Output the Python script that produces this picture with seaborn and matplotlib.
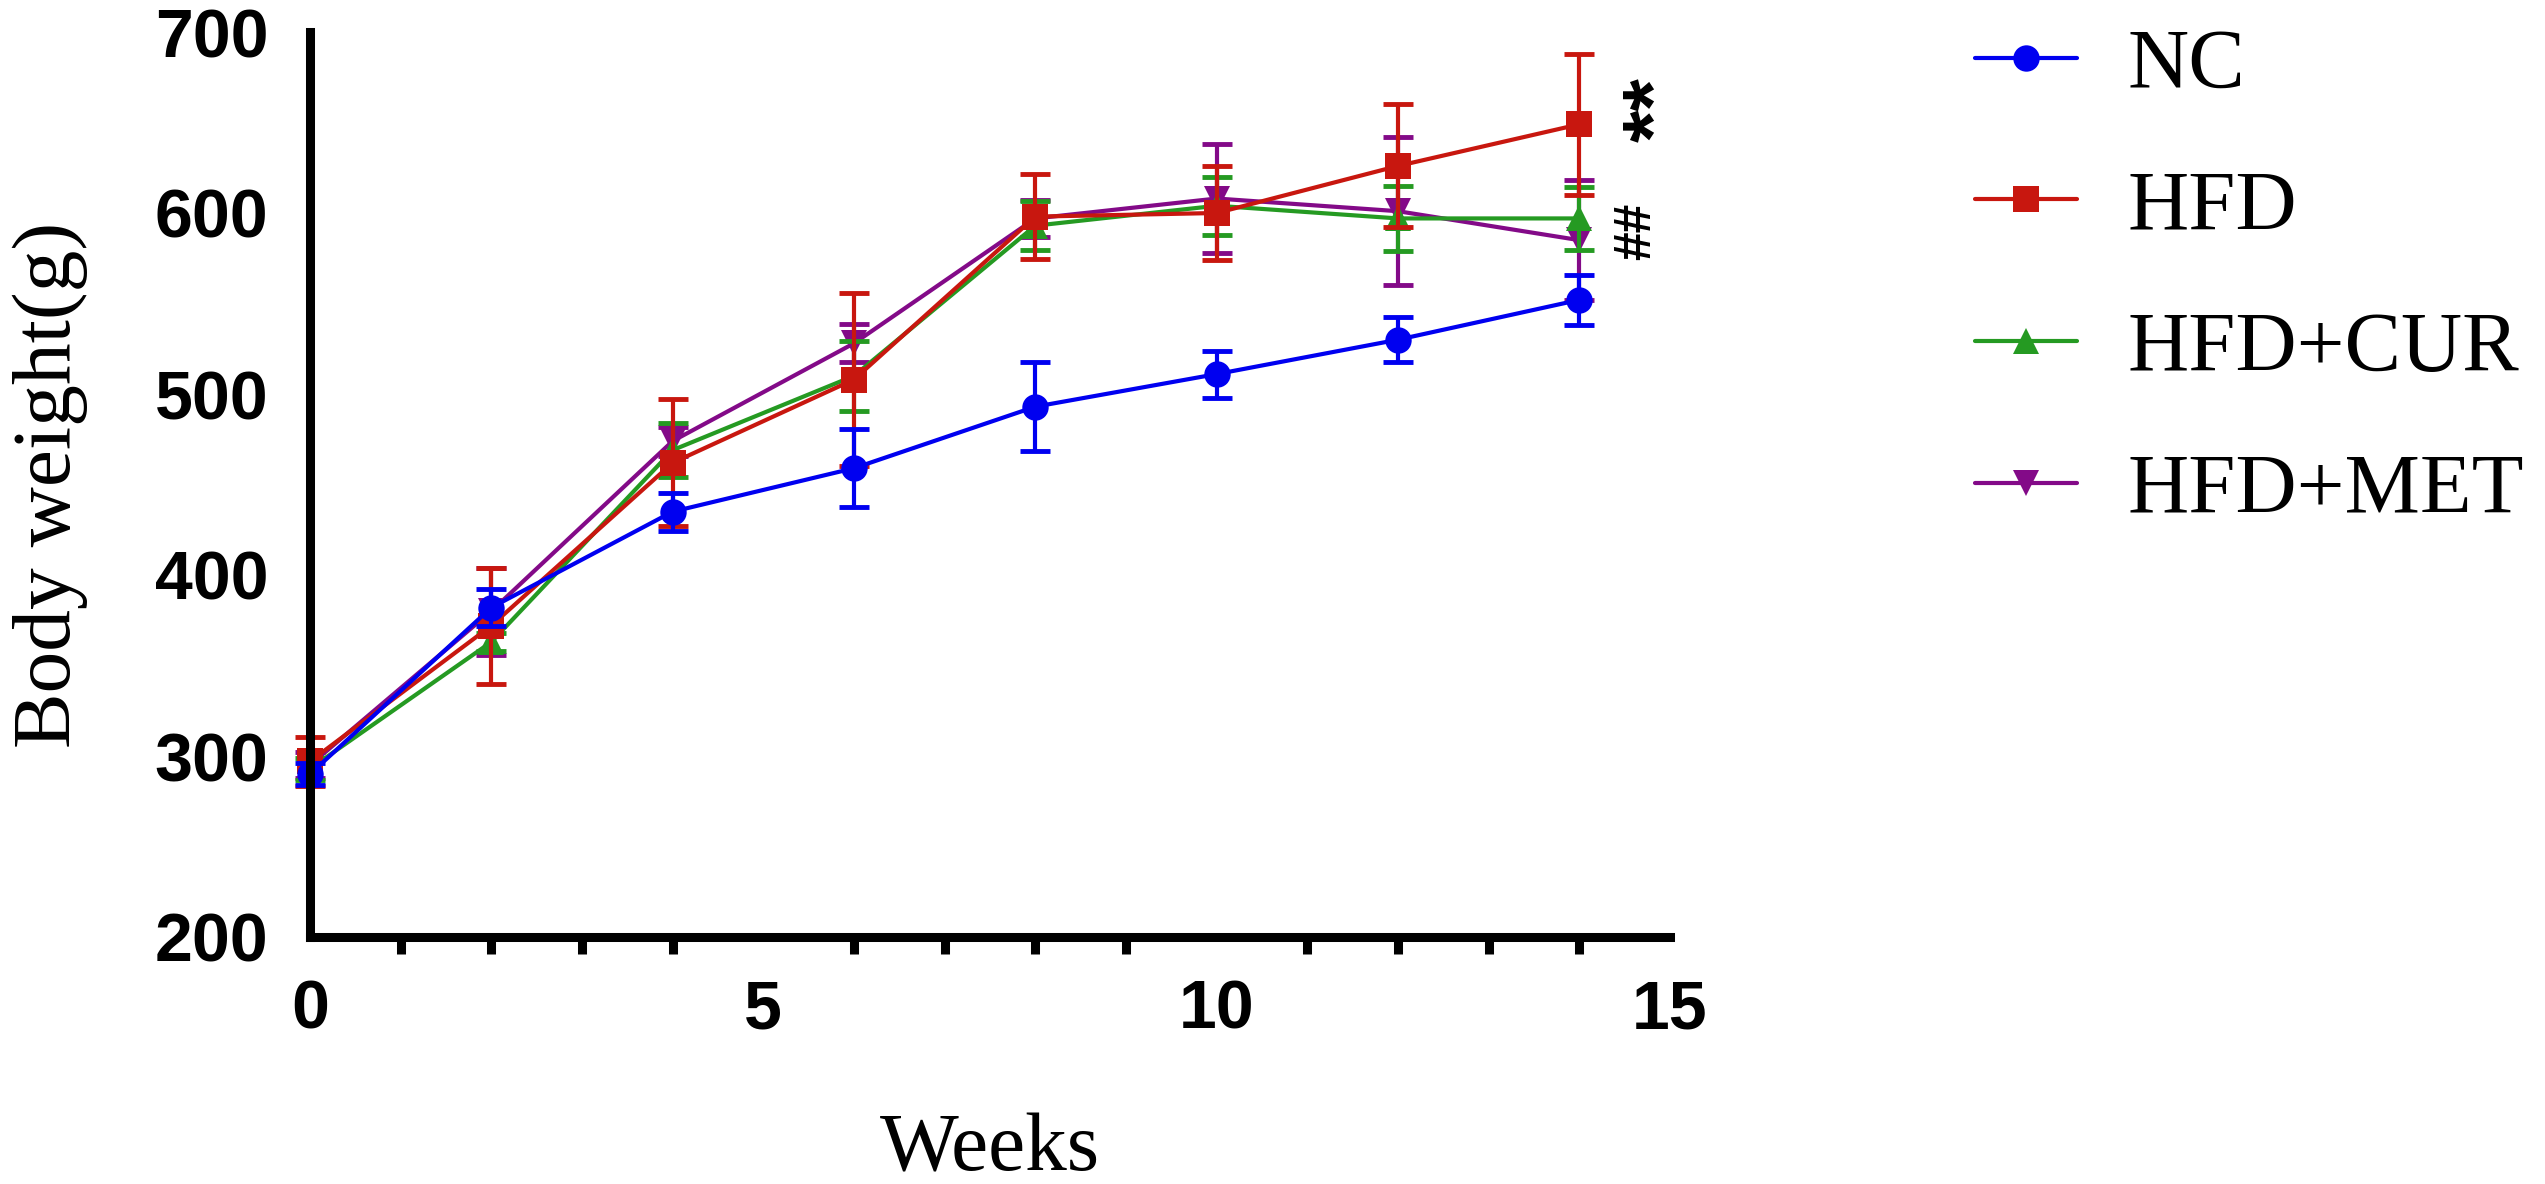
import numpy as np
import pandas as pd
import seaborn as sns
import matplotlib.pyplot as plt
from matplotlib.lines import Line2D
from matplotlib.ticker import MultipleLocator

# ----- data (mean +/- error) -----
weeks = [0, 2, 4, 6, 8, 10, 12, 14]
groups = ["NC", "HFD", "HFD+CUR", "HFD+MET"]

nc_mean = [290, 382, 435, 459, 493, 511, 530, 552]
nc_err = [6, 10, 10.5, 21.5, 24.5, 13, 12.5, 14]
hfd_mean = [297, 372, 462, 508, 598, 600, 626, 649]
hfd_err = [13.5, 32, 35, 48, 23.5, 26, 34, 39]
cur_mean = [293, 363, 469, 510, 593, 604, 597, 597]
cur_err = [6, 5, 15, 19.5, 13.5, 16, 18, 17.5]
met_mean = [295, 380, 474, 528, 597, 608, 601, 585]
met_err = [7, 24, 8, 10.5, 10, 30, 41, 33]

colors = {"NC": "#0000F0", "HFD": "#C8170F", "HFD+CUR": "#259A22", "HFD+MET": "#830A88"}
markers = {"NC": "o", "HFD": "s", "HFD+CUR": "^", "HFD+MET": "v"}

df = pd.concat([
    pd.DataFrame({"week": weeks, "weight": m, "err": e, "group": g})
    for g, m, e in zip(groups, [nc_mean, hfd_mean, cur_mean, met_mean],
                       [nc_err, hfd_err, cur_err, met_err])
])

sns.set_theme(style="white")
plt.rcParams["font.family"] = ["Liberation Sans", "DejaVu Sans"]
plt.rcParams.update({"text.color": "black", "axes.labelcolor": "black",
                     "xtick.color": "black", "ytick.color": "black"})

fig = plt.figure(figsize=(25.45, 11.84), dpi=100)
ax = fig.add_axes([310 / 2545, 1 - 937 / 1184, 1360 / 2545, 905 / 1184])

# draw back to front: MET, CUR, HFD, NC on top
for g in ["HFD+MET", "HFD+CUR", "HFD", "NC"]:
    sub = df[df["group"] == g]
    ax.errorbar(sub["week"], sub["weight"], yerr=sub["err"], fmt="none",
                ecolor=colors[g], elinewidth=3, capsize=11, capthick=3.5,
                clip_on=False)
    sns.lineplot(data=sub, x="week", y="weight", color=colors[g],
                 marker=markers[g], markersize=19, markeredgewidth=0,
                 linewidth=3, ax=ax, legend=False, clip_on=False)

ax.set_xlim(0, 15)
ax.set_ylim(200, 700)
ax.xaxis.set_major_locator(MultipleLocator(5))
ax.xaxis.set_minor_locator(MultipleLocator(1))
ax.yaxis.set_major_locator(MultipleLocator(100))

sns.despine(ax=ax)
for side in ["left", "bottom"]:
    ax.spines[side].set_linewidth(6.5)
    ax.spines[side].set_color("black")
    ax.spines[side].set_capstyle("projecting")

ax.tick_params(axis="both", which="major", direction="out", length=24,
               width=6.5, color="black", pad=6, labelsize=49, labelcolor="black")
ax.tick_params(axis="x", which="minor", direction="out", length=12,
               width=6.5, color="black", bottom=True)
for lab in ax.get_xticklabels() + ax.get_yticklabels():
    lab.set_fontweight("bold")

ax.set_xlabel("Weeks", family=["Liberation Serif", "DejaVu Serif"], fontsize=60)
ax.set_ylabel("Body weight(g)", family=["Liberation Serif", "DejaVu Serif"], fontsize=60)
ax.xaxis.set_label_coords(0.5, -0.195)
ax.xaxis.label.set_va("top")
ax.yaxis.set_label_coords(-0.163, 0.5)

# significance marks
ax.text(14.89, 657, "**", rotation=90, ha="center", va="center",
        fontsize=60, fontweight="bold", color="black", clip_on=False)
ax.text(14.63, 590, "##", rotation=90, ha="center", va="center",
        fontsize=37, fontweight="bold", color="black", clip_on=False)

handles = [Line2D([0], [0], color=colors[g], marker=markers[g], markersize=19,
                  markeredgewidth=0, linewidth=3) for g in groups]
fig.legend(handles, groups, loc="upper left", bbox_to_anchor=(1975 / 2545, 1 - 28 / 1184),
           frameon=False, prop={"family": ["Liberation Serif", "DejaVu Serif"], "size": 61},
           handlelength=1.2, handletextpad=0.6, labelspacing=0.76,
           borderpad=0, borderaxespad=0)

fig.savefig("out.png", dpi=100, facecolor="white")
